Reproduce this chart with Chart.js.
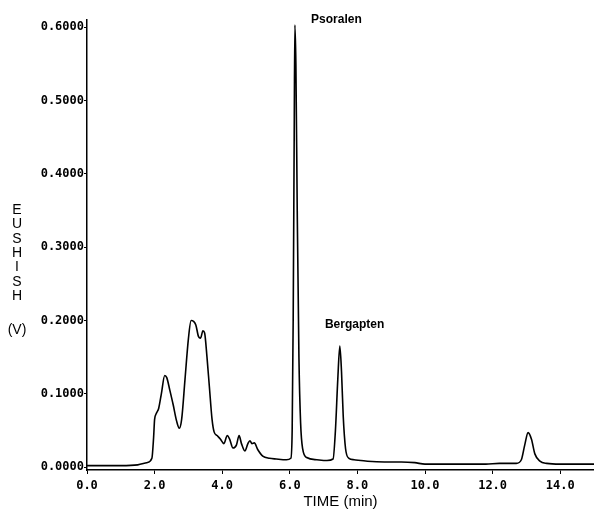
<!DOCTYPE html>
<html>
<head>
<meta charset="utf-8">
<script src="https://cdn.jsdelivr.net/npm/chart.js@4"></script>
<style>
  html, body { margin: 0; padding: 0; background: #fff; }
  #wrap { width: 594px; height: 512px; position: relative; }
</style>
</head>
<body>
<div id="wrap"><canvas id="chromChart"></canvas></div>
<script>
// retention time (min) and detector signal (V)
const times = [
  0.0, 0.5, 1.0, 1.5, 1.77, 1.92, 1.97, 2.0, 2.05, 2.12, 2.2, 2.3, 2.36, 2.45, 2.55, 2.65, 2.73,
  2.8, 2.9, 3.0, 3.08, 3.15, 3.22, 3.3, 3.36, 3.43, 3.48, 3.55, 3.62, 3.7, 3.76, 3.85, 3.95,
  4.05, 4.15, 4.22, 4.32, 4.42, 4.5, 4.57, 4.67, 4.76, 4.82, 4.88, 4.95, 5.05, 5.2, 5.4, 5.6,
  5.9, 6.03, 6.07, 6.1, 6.13, 6.15, 6.18, 6.22, 6.27, 6.32, 6.38, 6.5, 6.8, 7.1, 7.28, 7.35,
  7.42, 7.48, 7.53, 7.58, 7.65, 7.75, 7.9, 8.3, 8.8, 9.3, 9.7, 10.0, 11.0, 11.8, 12.2, 12.7,
  12.85, 12.95, 13.05, 13.15, 13.25, 13.4, 13.6, 14.0, 15.0
];
const signal = [
  0.002, 0.002, 0.002, 0.003, 0.006, 0.012, 0.04, 0.065, 0.073, 0.08, 0.1, 0.125, 0.122, 0.105, 0.085, 0.063, 0.053,
  0.065, 0.12, 0.175, 0.2, 0.199, 0.194, 0.178, 0.176, 0.186, 0.183, 0.15, 0.11, 0.065, 0.048, 0.043, 0.038,
  0.032, 0.043, 0.038, 0.026, 0.03, 0.043, 0.032, 0.022, 0.032, 0.036, 0.032, 0.033, 0.024, 0.015, 0.012, 0.011,
  0.010, 0.012, 0.05, 0.2, 0.45, 0.603, 0.55, 0.35, 0.15, 0.06, 0.025, 0.013, 0.010, 0.009, 0.011, 0.05,
  0.12, 0.165, 0.13, 0.07, 0.025, 0.012, 0.010, 0.008, 0.007, 0.007, 0.006, 0.004, 0.004, 0.004, 0.005, 0.005,
  0.01, 0.03, 0.047, 0.038, 0.018, 0.008, 0.005, 0.004, 0.004
];

const xTicks = [0, 2, 4, 6, 8, 10, 12, 14];
const yTicks = [0, 0.1, 0.2, 0.3, 0.4, 0.5, 0.6];

// peak names with the data position where their label starts
const peakNames = ['Psoralen', 'Bergapten'];
const peakLabelTimes = [6.63, 7.04];
const peakLabelValues = [0.611, 0.194];

const yTitleLetters = ['E', 'U', 'S', 'H', 'I', 'S', 'H'];
const yTitleUnit = '(V)';

const points = times.map((t, i) => ({ x: t, y: signal[i] }));

const textPlugin = {
  id: 'chromText',
  afterDraw(chart) {
    const c = chart.ctx;
    const xs = chart.scales.x, ys = chart.scales.y;
    c.save();
    c.fillStyle = '#000';
    c.textBaseline = 'middle';
    c.textAlign = 'left';
    c.font = 'bold 12px "Liberation Sans", Arial, sans-serif';
    peakNames.forEach((name, i) => {
      c.fillText(name, xs.getPixelForValue(peakLabelTimes[i]), ys.getPixelForValue(peakLabelValues[i]));
    });
    // vertical stacked axis title
    c.textAlign = 'center';
    c.font = '14px "Liberation Sans", Arial, sans-serif';
    yTitleLetters.forEach((ch, i) => {
      c.fillText(ch, 17, 210 + i * 14.4);
    });
    c.fillText(yTitleUnit, 17, 330);
    c.restore();
  }
};

const ctx = document.getElementById('chromChart').getContext('2d');
const chromChart = new Chart(ctx, {
  type: 'line',
  data: {
    datasets: [{
      data: points,
      borderColor: '#000',
      borderWidth: 1.6,
      pointRadius: 0,
      cubicInterpolationMode: 'monotone',
      fill: false
    }]
  },
  options: {
    responsive: true,
    maintainAspectRatio: false,
    animation: false,
    layout: { padding: { top: 20, right: 0, left: 0, bottom: 0 } },
    plugins: {
      legend: { display: false },
      tooltip: { enabled: false }
    },
    scales: {
      x: {
        type: 'linear',
        min: 0,
        max: 15,
        afterBuildTicks: s => { s.ticks = xTicks.map(v => ({ value: v })); },
        afterFit: s => { s.height = 42; },
        grid: { drawOnChartArea: false, drawTicks: true, tickLength: 4, color: '#000' },
        border: { display: true, color: '#000', width: 1.5 },
        ticks: {
          color: '#000',
          padding: 5,
          maxRotation: 0,
          font: { family: '"DejaVu Sans Mono", "Liberation Mono", monospace', size: 12, weight: 'bold' },
          callback: v => Number(v).toFixed(1)
        },
        title: {
          display: true,
          text: 'TIME (min)',
          color: '#000',
          padding: { top: 0, bottom: 1 },
          font: { family: '"Liberation Sans", Arial, sans-serif', size: 15 }
        }
      },
      y: {
        min: -0.004,
        max: 0.61,
        afterBuildTicks: s => { s.ticks = yTicks.map(v => ({ value: v })); },
        afterFit: s => { s.width = 87; },
        grid: { drawOnChartArea: false, drawTicks: true, tickLength: 3, color: '#000' },
        border: { display: true, color: '#000', width: 1.5 },
        ticks: {
          color: '#000',
          padding: 0,
          font: { family: '"DejaVu Sans Mono", "Liberation Mono", monospace', size: 12, weight: 'bold' },
          callback: v => Number(v).toFixed(4)
        }
      }
    }
  },
  plugins: [textPlugin]
});
</script>
</body>
</html>
